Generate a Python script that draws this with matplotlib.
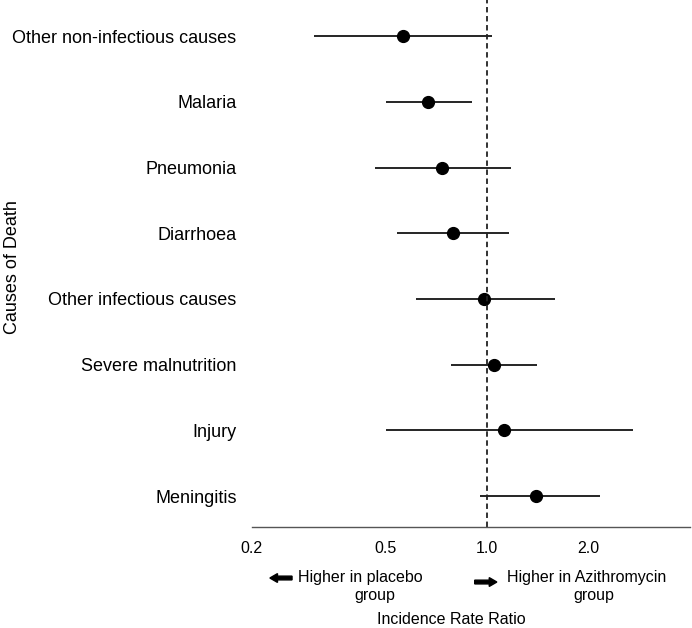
import matplotlib.pyplot as plt

plt.rcParams['font.family'] = ['Liberation Sans', 'DejaVu Sans']

# causes listed top to bottom
causes = ['Other non-infectious causes', 'Malaria', 'Pneumonia', 'Diarrhoea',
          'Other infectious causes', 'Severe malnutrition', 'Injury', 'Meningitis']
irr = [0.561, 0.669, 0.736, 0.794, 0.980, 1.05, 1.125, 1.40]
ci_low = [0.305, 0.499, 0.463, 0.540, 0.616, 0.783, 0.501, 0.949]
ci_high = [1.03, 0.903, 1.177, 1.164, 1.59, 1.41, 2.71, 2.16]
xticks = [0.2, 0.5, 1.0, 2.0]
xtick_labels = ['0.2', '0.5', '1.0', '2.0']

fig = plt.figure(figsize=(6.92, 6.28), dpi=100)
ax = fig.add_axes([0.364, 0.161, 0.633, 0.839])

n = len(causes)
ypos = [n - i for i in range(n)]

ax.hlines(ypos, ci_low, ci_high, color='black', linewidth=1.2)
ax.plot(irr, ypos, 'o', color='black', markersize=8.5)
ax.axvline(1.0, color='#222222', linestyle=(0, (3, 2)), linewidth=1.3)

ax.set_xscale('log')
ax.set_xlim(0.2, 4.0)
ax.set_ylim(0.53, 8.55)
ax.set_xticks(xticks)
ax.set_xticklabels(xtick_labels)
ax.minorticks_off()
ax.set_yticks(ypos)
ax.set_yticklabels(causes)
ax.tick_params(axis='y', length=0, pad=11, labelsize=13)
ax.tick_params(axis='x', length=0, pad=10, labelsize=11.5)

for side in ['top', 'right', 'left']:
    ax.spines[side].set_visible(False)
ax.spines['bottom'].set_color('#555555')
ax.spines['bottom'].set_linewidth(1.0)

fig.text(0.018, 0.575, 'Causes of Death', rotation=90, ha='center', va='center', fontsize=13)
fig.text(0.652, 0.014, 'Incidence Rate Ratio', ha='center', va='center', fontsize=11.5)

# direction arrows and labels
fig.text(0.520, 0.081, 'Higher in placebo', ha='center', va='center', fontsize=11.5)
fig.text(0.542, 0.052, 'group', ha='center', va='center', fontsize=11.5)
fig.text(0.848, 0.081, 'Higher in Azithromycin', ha='center', va='center', fontsize=11.5)
fig.text(0.858, 0.052, 'group', ha='center', va='center', fontsize=11.5)

ly = 0.0796
fig.add_artist(plt.Polygon([[0.390, ly], [0.401, ly + 0.0070], [0.401, ly + 0.0030], [0.422, ly + 0.0030],
                            [0.422, ly - 0.0030], [0.401, ly - 0.0030], [0.401, ly - 0.0070]],
                           closed=True, color='black', transform=fig.transFigure))
ry = 0.0732
fig.add_artist(plt.Polygon([[0.718, ry], [0.707, ry + 0.0070], [0.707, ry + 0.0030], [0.686, ry + 0.0030],
                            [0.686, ry - 0.0030], [0.707, ry - 0.0030], [0.707, ry - 0.0070]],
                           closed=True, color='black', transform=fig.transFigure))

fig.savefig('out.png', dpi=100)
